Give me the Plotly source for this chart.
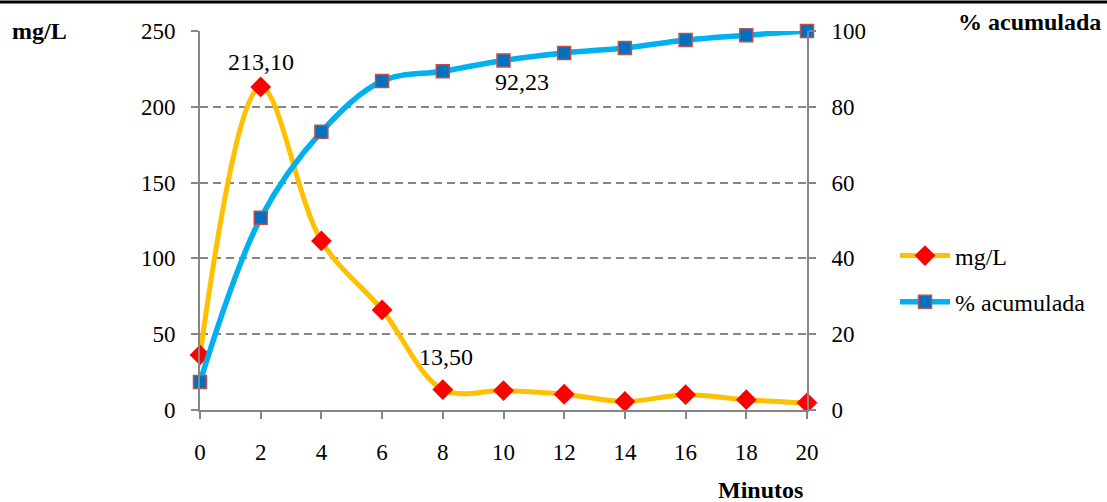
import plotly.graph_objects as go

# Sampling times (minutes)
minutos = [0, 2, 4, 6, 8, 10, 12, 14, 16, 18, 20]
# Concentration per sample (mg/L)
mg_l = [36.3, 213.10, 111.5, 66.0, 13.50, 12.8, 10.4, 5.6, 10.1, 6.8, 4.7]
# Cumulative percentage released
acumulada = [7.4, 50.7, 73.4, 86.8, 89.4, 92.23, 94.2, 95.5, 97.6, 98.9, 100.0]

left_ticks = [0, 50, 100, 150, 200, 250]
right_ticks = [0, 20, 40, 60, 80, 100]
x_ticks = minutos

FONT = "Liberation Serif, Times New Roman, serif"
FS_TICK = 23
FS_TEXT = 24
AXIS_GREY = "#868686"

# plot-area pixel box, used to place free text in paper coordinates
L, R, T, B = 200, 807, 31, 410


def paper_x(px):
    return (px - L) / (R - L)


def paper_y(py):
    return (B - py) / (B - T)


def fmt(v):
    return f"{v:.2f}".replace(".", ",")


fig = go.Figure()

fig.add_trace(go.Scatter(
    x=minutos, y=mg_l, name="mg/L", mode="lines+markers", legendgroup="a",
    line=dict(color="#FFC000", width=5, shape="spline", smoothing=1.0),
    marker=dict(symbol="diamond", size=16, color="#FF0000", line=dict(width=0)),
    cliponaxis=False, yaxis="y",
))
fig.add_trace(go.Scatter(
    x=minutos, y=acumulada, name="% acumulada", mode="lines+markers", legendgroup="b",
    line=dict(color="#00B0F0", width=5.5, shape="spline", smoothing=1.0),
    marker=dict(symbol="square", size=13, color="#0070C0",
                line=dict(width=1.5, color="#C0504D")),
    cliponaxis=False, yaxis="y2",
))

label_font = dict(size=FS_TEXT, family=FONT, color="black")

# Value labels on selected points
fig.add_annotation(x=minutos[1], y=mg_l[1], text=fmt(mg_l[1]), xref="x", yref="y",
                   showarrow=False, yshift=25, font=label_font)
fig.add_annotation(x=minutos[4], y=mg_l[4], text=fmt(mg_l[4]), xref="x", yref="y",
                   showarrow=False, yshift=33, xshift=3, font=label_font)
fig.add_annotation(x=minutos[5], y=acumulada[5], text=fmt(acumulada[5]), xref="x", yref="y2",
                   showarrow=False, yshift=-22, xshift=18, font=label_font)

# Axis titles as free text
for txt, px, py in [("<b>mg/L</b>", 39, 31), ("<b>% acumulada</b>", 1029, 22),
                    ("<b>Minutos</b>", 760, 490)]:
    fig.add_annotation(x=paper_x(px), y=paper_y(py), xref="paper", yref="paper",
                       text=txt, showarrow=False, xanchor="center", yanchor="middle",
                       font=label_font)

# Rule along the top edge
fig.add_shape(type="line", xref="paper", yref="paper",
              x0=paper_x(0), x1=paper_x(1107), y0=paper_y(2), y1=paper_y(2),
              line=dict(color="black", width=3))

axis_common = dict(
    showline=True, linecolor=AXIS_GREY, linewidth=2,
    ticks="outside", ticklen=7, tickcolor=AXIS_GREY, tickwidth=2,
    tickfont=dict(size=FS_TICK, family=FONT, color="black"),
    zeroline=False,
)

fig.update_layout(
    width=1107, height=502,
    margin=dict(l=L, r=1107 - R, t=T, b=502 - B),
    paper_bgcolor="white", plot_bgcolor="white",
    font=dict(family=FONT, size=FS_TICK, color="black"),
    showlegend=True,
    legend=dict(x=paper_x(895), y=paper_y(279), xanchor="left", yanchor="middle",
                font=dict(size=FS_TEXT, family=FONT, color="black"),
                bgcolor="rgba(0,0,0,0)", tracegroupgap=12, itemwidth=50),
    xaxis=dict(range=[0, 20], tickvals=x_ticks, showgrid=False,
               ticklabelstandoff=13, **axis_common),
    yaxis=dict(range=[0, 250], tickvals=left_ticks, showgrid=True,
               gridcolor=AXIS_GREY, griddash="8px,5px", gridwidth=1.5,
               ticklabelstandoff=11, **axis_common),
    yaxis2=dict(range=[0, 100], tickvals=right_ticks, overlaying="y",
                side="right", showgrid=False, ticklabelstandoff=11,
                **axis_common),
)

fig.write_html("out.html")
